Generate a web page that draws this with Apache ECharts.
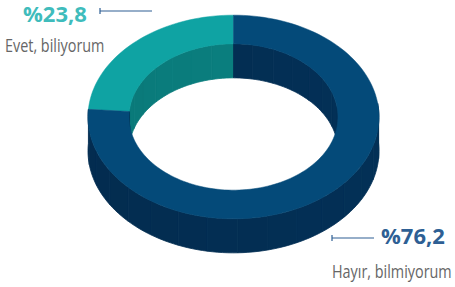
<!DOCTYPE html>
<html>
<head>
<meta charset="utf-8">
<script src="https://cdn.jsdelivr.net/npm/echarts@6/dist/echarts.min.js"></script>
<style>
  html, body { margin: 0; padding: 0; background: #fff; }
  #chart { width: 455px; height: 287px; }
</style>
</head>
<body>
<div id="chart"></div>
<script>
// veriler
var categories = ['Evet, biliyorum', 'Hayır, bilmiyorum'];
var values = [23.8, 76.2];
var topColors = ['#0fa3a3', '#044a79'];
var wallColors = ['#0a7f7f', '#032e53'];
var labelColors = ['#3fbcbc', '#2e5f94'];

let chart = echarts.init(document.getElementById('chart'), null, { renderer: 'svg' });

// halka geometrisi (3B gorunum)
var CX = 233.5, CY = 117, R_OUT = 145.5, R_IN = 104.5, K = 0.7, DEPTH = 34;

var total = values.reduce(function (a, b) { return a + b; }, 0);
var slices = [];
var acc = 90;
values.forEach(function (v, i) {
    var span = v / total * 360;
    slices.push([i, acc, acc + span]);
    acc += span;
});

function pt(r, deg, dy) {
    var t = deg * Math.PI / 180;
    return [CX + r * Math.cos(t), CY - r * K * Math.sin(t) + (dy || 0)];
}
function arc(r, a, b, dy) {
    var pts = [], n = Math.max(2, Math.ceil(Math.abs(b - a) / 2));
    for (var j = 0; j <= n; j++) pts.push(pt(r, a + (b - a) * j / n, dy));
    return pts;
}
function shade(hex, f) {
    var c = echarts.color.parse(hex);
    return echarts.color.stringify([
        Math.min(255, Math.round(c[0] * f)),
        Math.min(255, Math.round(c[1] * f)),
        Math.min(255, Math.round(c[2] * f)), 1], 'rgba');
}

function renderItem(params, api) {
    var idx = api.value(0), a = api.value(1), b = api.value(2);
    var children = [];
    // duvarlar: dilimleri kucuk parcalara bol
    var step = 12;
    for (var s = a; s < b - 0.01; s += step) {
        var e = Math.min(b, s + step);
        var mid = (s + e) / 2;
        var f = 1 + 0.04 * Math.cos(mid * Math.PI / 180);
        var col = shade(wallColors[idx], f);
        if (Math.sin(mid * Math.PI / 180) < 0.05) {
            // dis duvar (on taraf)
            var top = arc(R_OUT, s, e, 0), bot = arc(R_OUT, e, s, DEPTH);
            children.push({ type: 'polygon', z2: 2, shape: { points: top.concat(bot) },
                style: { fill: col, stroke: col, lineWidth: 0.8 } });
        }
        if (Math.sin(mid * Math.PI / 180) > -0.05) {
            // ic duvar (arka taraf)
            var top2 = arc(R_IN, s, e, 0), bot2 = arc(R_IN, e, s, DEPTH);
            children.push({ type: 'polygon', z2: 1, shape: { points: top2.concat(bot2) },
                style: { fill: col, stroke: col, lineWidth: 0.8 } });
        }
    }
    // ust yuzey
    children.push({ type: 'polygon', z2: 3,
        shape: { points: arc(R_OUT, a, b, 0).concat(arc(R_IN, b, a, 0)) },
        style: { fill: topColors[idx], stroke: topColors[idx], lineWidth: 0.5 } });
    return { type: 'group', children: children };
}

function pctText(v) { return '%' + String(v).replace('.', ','); }

// etiketler ve cizgiler
var lineColor = '#2e5f94';
var pctFont = 'bold 22px "Open Sans"';
var catFont = '18px "Open Sans"';
var graphics = [
    { type: 'text', x: 23, y: 13, style: { text: pctText(values[0]), fill: labelColors[0],
        font: pctFont, lineHeight: 20, verticalAlign: 'middle' } },
    { type: 'text', x: 5, y: 45, scaleX: 0.8, style: { text: categories[0], fill: '#666',
        font: catFont, verticalAlign: 'middle' } },
    { type: 'line', shape: { x1: 100, y1: 11, x2: 152, y2: 11 }, style: { stroke: lineColor, lineWidth: 1.2 } },
    { type: 'line', shape: { x1: 100, y1: 8, x2: 100, y2: 14 }, style: { stroke: lineColor, lineWidth: 1.2 } },
    { type: 'text', x: 381, y: 235, style: { text: pctText(values[1]), fill: labelColors[1],
        font: pctFont, lineHeight: 20, verticalAlign: 'middle' } },
    { type: 'text', x: 332, y: 271, scaleX: 0.8, style: { text: categories[1], fill: '#666',
        font: catFont, verticalAlign: 'middle' } },
    { type: 'line', shape: { x1: 332, y1: 238, x2: 374, y2: 238 }, style: { stroke: lineColor, lineWidth: 1.2 } },
    { type: 'line', shape: { x1: 332, y1: 235, x2: 332, y2: 241 }, style: { stroke: lineColor, lineWidth: 1.2 } }
];

chart.setOption({
    animation: false,
    backgroundColor: '#fff',
    series: [{
        type: 'custom',
        coordinateSystem: 'none',
        renderItem: renderItem,
        data: slices
    }],
    graphic: graphics
});
</script>
</body>
</html>
